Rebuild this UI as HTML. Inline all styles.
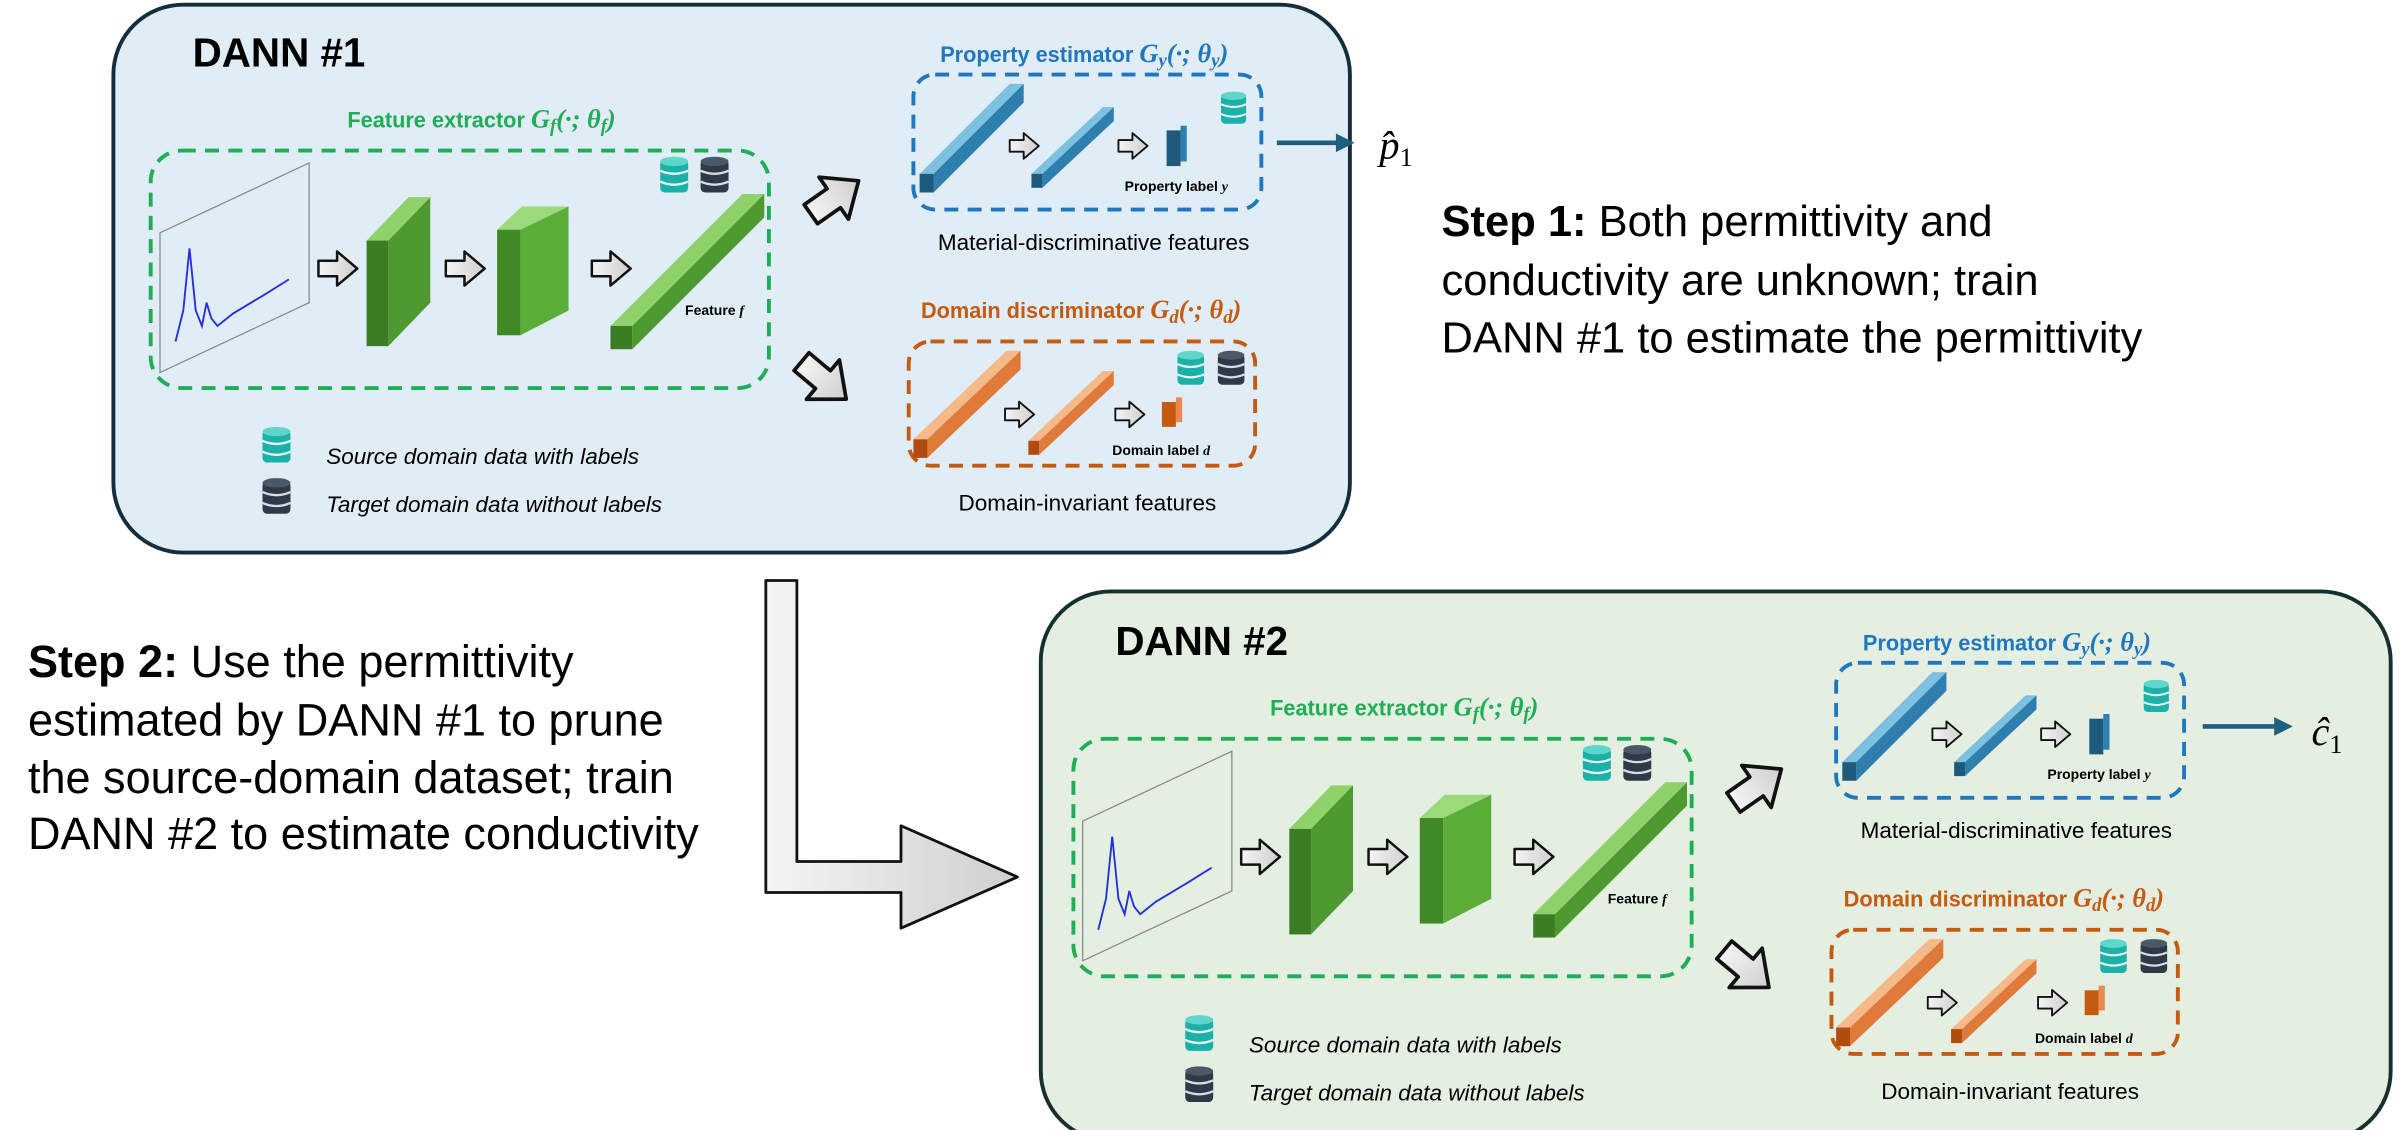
<!DOCTYPE html>
<html><head><meta charset="utf-8"><style>
html,body{margin:0;padding:0;background:#fff;}
svg{display:block;}
text{font-family:"Liberation Sans",sans-serif;}
.m{font-family:"Liberation Serif",serif;font-style:italic;}
</style></head><body>
<svg width="2400" height="1130" viewBox="0 0 1545 728" preserveAspectRatio="none" xmlns="http://www.w3.org/2000/svg">
<defs>
<linearGradient id="gray" x1="0" y1="0" x2="1" y2="0"><stop offset="0" stop-color="#f4f4f4"/><stop offset="1" stop-color="#cfcfcf"/></linearGradient>
<g id="barrow"><polygon points="0,-5 12,-5 12,-11 25,0 12,11 12,5 0,5" fill="url(#gray)" stroke="#111" stroke-width="1.6" stroke-linejoin="round"/></g>
<g id="dbt"><rect x="0" y="2" width="18" height="21" rx="3" fill="#1bb0a8"/><ellipse cx="9" cy="3" rx="9" ry="3" fill="#5fd6cc"/><path d="M0,9 Q9,13 18,9 M0,16 Q9,20 18,16" stroke="#e6f7f6" stroke-width="1.5" fill="none"/></g>
<g id="dbd"><rect x="0" y="2" width="18" height="21" rx="3" fill="#2e3a48"/><ellipse cx="9" cy="3" rx="9" ry="3" fill="#4b5868"/><path d="M0,9 Q9,13 18,9 M0,16 Q9,20 18,16" stroke="#d8dde3" stroke-width="1.5" fill="none"/></g>
<g id="inner">
 <rect x="97" y="97" width="398" height="153" rx="20" fill="none" stroke="#1fae55" stroke-width="2.5" stroke-dasharray="9,6"/>
 <polygon points="103,150 199,105 199,195 103,240" fill="none" stroke="#888" stroke-width="0.8"/>
 <path d="M113,220 L118,200 L122,160 L126,200 L130,210 L133,195 L136,205 L140,210 L150,202 L170,190 L186,180" fill="none" stroke="#2430d8" stroke-width="1.2"/>
 <use href="#barrow" transform="translate(205,173)"/>
 <polygon points="236,155 263,127 277,127 250,155" fill="#8fd16a"/>
 <polygon points="250,155 277,127 277,195 250,223" fill="#4e9a30"/>
 <rect x="236" y="155" width="14" height="68" fill="#3a7d22"/>
 <use href="#barrow" transform="translate(287,173)"/>
 <polygon points="320,148 336,133 366,133 335,148" fill="#9bd97a"/>
 <polygon points="335,148 366,133 366,200 335,216" fill="#5aae38"/>
 <rect x="320" y="148" width="15" height="68" fill="#3f8a27"/>
 <use href="#barrow" transform="translate(381,173)"/>
 <polygon points="393,210 478,125 492,125 407,210" fill="#8fd16a"/>
 <polygon points="407,210 492,125 492,140 407,225" fill="#4e9a30"/>
 <rect x="393" y="210" width="14" height="15" fill="#3a7d22"/>
 <use href="#dbt" transform="translate(425,101)"/><use href="#dbd" transform="translate(451,101)"/>
 <text x="441" y="203" font-size="9" font-weight="bold">Feature <tspan class="m">f</tspan></text>
 <use href="#barrow" transform="translate(522,138) rotate(-35) scale(1.5)"/>
 <use href="#barrow" transform="translate(516,233) rotate(40) scale(1.5)"/>
 <rect x="588" y="48" width="224" height="87" rx="14" fill="none" stroke="#1f77c0" stroke-width="2.5" stroke-dasharray="9,6"/>
 <polygon points="592,112 650,54 659,54 601,112" fill="#7ec0e0"/>
 <polygon points="601,112 659,54 659,66 601,124" fill="#2e7fae"/>
 <rect x="592" y="112" width="9" height="12" fill="#1d5a7c"/>
 <use href="#barrow" transform="translate(650,94) scale(0.75)"/>
 <polygon points="664,112 710,69 717,69 671,112" fill="#7ec0e0"/>
 <polygon points="671,112 717,69 717,78 671,121" fill="#2e7fae"/>
 <rect x="664" y="112" width="7" height="9" fill="#1d5a7c"/>
 <use href="#barrow" transform="translate(720,94) scale(0.75)"/>
 <rect x="751" y="84" width="9" height="23" fill="#1d5a7c"/><rect x="760" y="81" width="4" height="23" fill="#2e7fae"/>
 <use href="#dbt" transform="translate(786,59) scale(0.9)"/>
 <text x="724" y="123" font-size="9" font-weight="bold">Property label <tspan class="m">y</tspan></text>
 <text x="704" y="161" font-size="14.5" text-anchor="middle">Material-discriminative features</text>
 <text x="698" y="40" font-size="14" font-weight="bold" fill="#1f77c0" text-anchor="middle">Property estimator <tspan class="m" font-size="17">G<tspan font-size="12" dy="3">y</tspan><tspan dy="-3">(·; θ</tspan><tspan font-size="12" dy="3">y</tspan><tspan dy="-3">)</tspan></tspan></text>
 <text x="310" y="82" font-size="14" font-weight="bold" fill="#1fae55" text-anchor="middle">Feature extractor <tspan class="m" font-size="17">G<tspan font-size="12" dy="3">f</tspan><tspan dy="-3">(·; θ</tspan><tspan font-size="12" dy="3">f</tspan><tspan dy="-3">)</tspan></tspan></text>
 <rect x="585" y="220" width="223" height="80" rx="14" fill="none" stroke="#c55a11" stroke-width="2.5" stroke-dasharray="9,6"/>
 <polygon points="588,283 648,226 657,226 597,283" fill="#f5b98a"/>
 <polygon points="597,283 657,226 657,238 597,295" fill="#e07a3a"/>
 <rect x="588" y="283" width="9" height="12" fill="#b04c10"/>
 <use href="#barrow" transform="translate(647,267) scale(0.75)"/>
 <polygon points="662,284 710,239 717,239 669,284" fill="#f5b98a"/>
 <polygon points="669,284 717,239 717,248 669,293" fill="#e07a3a"/>
 <rect x="662" y="284" width="7" height="9" fill="#b04c10"/>
 <use href="#barrow" transform="translate(718,267) scale(0.75)"/>
 <rect x="748" y="259" width="9" height="16" fill="#c55a11"/><rect x="757" y="256" width="4" height="16" fill="#e88a50"/>
 <use href="#dbt" transform="translate(758,226) scale(0.95)"/><use href="#dbd" transform="translate(784,226) scale(0.95)"/>
 <text x="716" y="293" font-size="9" font-weight="bold">Domain label <tspan class="m">d</tspan></text>
 <text x="700" y="329" font-size="14.5" text-anchor="middle">Domain-invariant features</text>
 <text x="696" y="205" font-size="14" font-weight="bold" fill="#c55a11" text-anchor="middle">Domain discriminator <tspan class="m" font-size="17">G<tspan font-size="12" dy="3">d</tspan><tspan dy="-3">(·; θ</tspan><tspan font-size="12" dy="3">d</tspan><tspan dy="-3">)</tspan></tspan></text>
 <use href="#dbt" transform="translate(169,275)"/><use href="#dbd" transform="translate(169,308)"/>
 <text x="210" y="299" font-size="14.5" font-style="italic">Source domain data with labels</text>
 <text x="210" y="330" font-size="14.5" font-style="italic">Target domain data without labels</text>
</g>
</defs>
<rect x="73" y="3" width="796" height="353" rx="45" fill="#e0ecf6" stroke="#142e3e" stroke-width="2.5"/>
<use href="#inner"/>
<text x="124" y="43" font-size="26" font-weight="bold">DANN #1</text>
<line x1="822" y1="92" x2="862" y2="92" stroke="#1f5f80" stroke-width="3"/><polygon points="860,86 872,92 860,98" fill="#1f5f80"/>
<text x="888" y="102" font-size="26" class="m">p̂<tspan font-size="17" dy="5" font-style="normal">1</tspan></text>
<text x="928" y="152" font-size="28"><tspan font-weight="bold">Step 1:</tspan> Both permittivity and</text>
<text x="928" y="190" font-size="28">conductivity are unknown; train</text>
<text x="928" y="227" font-size="28">DANN #1 to estimate the permittivity</text>
<polygon points="493,374 513,374 513,555 580,555 580,532 655,565 580,598 580,575 493,575" fill="url(#gray)" stroke="#111" stroke-width="1.8" stroke-linejoin="round"/>
<text x="18" y="436" font-size="29"><tspan font-weight="bold">Step 2:</tspan> Use the permittivity</text>
<text x="18" y="474" font-size="29">estimated by DANN #1 to prune</text>
<text x="18" y="511" font-size="29">the source-domain dataset; train</text>
<text x="18" y="547" font-size="29">DANN #2 to estimate conductivity</text>
<rect x="670" y="381" width="869" height="354" rx="45" fill="#e4efe2" stroke="#16302f" stroke-width="2.5"/>
<use href="#inner" transform="translate(594,379)"/>
<text x="718" y="422" font-size="26" font-weight="bold">DANN #2</text>
<line x1="1418" y1="468" x2="1466" y2="468" stroke="#1f5f80" stroke-width="3"/><polygon points="1464,462 1476,468 1464,474" fill="#1f5f80"/>
<text x="1488" y="480" font-size="26" class="m">ĉ<tspan font-size="17" dy="5" font-style="normal">1</tspan></text>
</svg>
</body></html>
